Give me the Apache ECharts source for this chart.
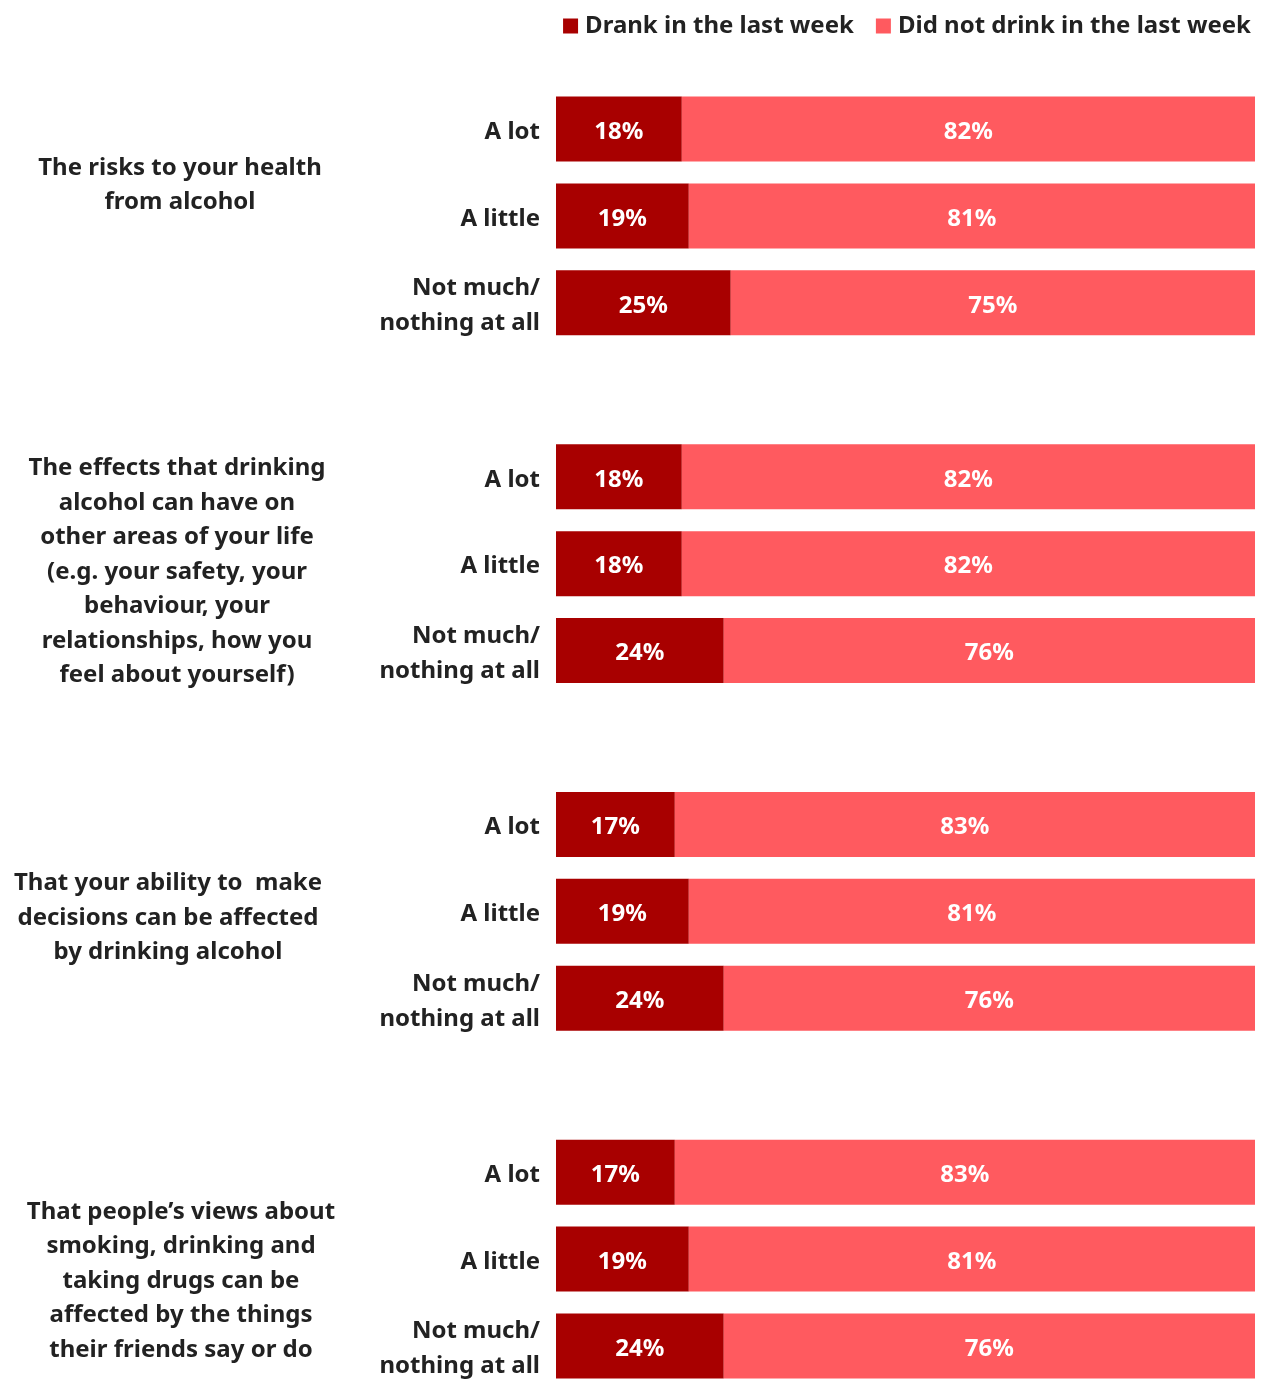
<!DOCTYPE html>
<html>
<head>
<meta charset="utf-8">
<script src="https://cdn.jsdelivr.net/npm/echarts@6/dist/echarts.min.js"></script>
<style>
  html, body { margin: 0; padding: 0; background: #ffffff; }
  #chart { width: 1266px; height: 1381px; }
</style>
</head>
<body>
<div id="chart"></div>
<script>
// Survey responses: how much pupils were taught about each topic,
// split by whether they drank alcohol in the last week (%).
const topics = [
  'The risks to your health\nfrom alcohol',
  'The effects that drinking\nalcohol can have on\nother areas of your life\n(e.g. your safety, your\nbehaviour, your\nrelationships, how you\nfeel about yourself)',
  'That your ability to  make\ndecisions can be affected\nby drinking alcohol',
  'That people\u2019s views about\nsmoking, drinking and\ntaking drugs can be\naffected by the things\ntheir friends say or do'
];
const levels = ['A lot', 'A little', 'Not much/\nnothing at all'];
const drank = [18, 19, 25, 18, 18, 24, 17, 19, 24, 17, 19, 24];
const didNotDrink = [82, 81, 75, 82, 82, 76, 83, 81, 76, 83, 81, 76];
const seriesNames = ['Drank in the last week', 'Did not drink in the last week'];

const FONT = '"Noto Sans", "Open Sans", sans-serif';
const TEXT = '#222222';
const FS = 24;

// Rows: three answer levels per topic, with an empty spacer row between topics
const rows = [];
const drankRows = [];
const notRows = [];
topics.forEach((t, g) => {
  levels.forEach((lv, i) => {
    rows.push(lv + '\u200b'.repeat(g));
    drankRows.push(drank[g * 3 + i]);
    notRows.push(didNotDrink[g * 3 + i]);
  });
  if (g < topics.length - 1) {
    rows.push(' '.repeat(g + 1));
    drankRows.push(null);
    notRows.push(null);
  }
});

// Horizontal and vertical centres of the topic text blocks
const topicX = [180, 177, 168, 181];
const topicY = [185, 572, 918, 1281];

const chart = echarts.init(document.getElementById('chart'));

const barLabel = {
  show: true,
  position: 'inside',
  offset: [0, 3],
  color: '#ffffff',
  fontFamily: FONT,
  fontWeight: 'bold',
  fontSize: FS,
  formatter: p => p.value + '%'
};

const rowText = {
  fontFamily: FONT,
  fontWeight: 'bold',
  fontSize: FS,
  lineHeight: 35,
  color: TEXT,
  align: 'right'
};

chart.setOption({
  backgroundColor: '#ffffff',
  animation: false,
  legend: {
    top: 9,
    right: 10,
    itemWidth: 15,
    itemHeight: 15,
    itemGap: 22,
    icon: 'rect',
    textStyle: { fontFamily: FONT, fontWeight: 'bold', fontSize: FS, color: TEXT, padding: [0, 0, 0, 2] },
    data: seriesNames
  },
  // rows sit on the tick positions: first bar centre at the top edge, last at the bottom edge
  grid: { left: 556, right: 11, top: 129, bottom: 33, containLabel: false },
  xAxis: { type: 'value', min: 0, max: 100, show: false },
  yAxis: {
    type: 'category',
    inverse: true,
    boundaryGap: false,
    data: rows,
    axisLine: { show: false },
    axisTick: { show: false },
    splitLine: { show: false },
    axisLabel: {
      margin: 16,
      align: 'right',
      fontFamily: FONT,
      fontWeight: 'bold',
      fontSize: FS,
      lineHeight: 35,
      color: TEXT,
      formatter: v => {
        const clean = v.replace(/\u200b/g, '').trim();
        if (!clean) return '';
        return clean.split('\n').map(l => '{r|' + l + '}').join('\n');
      },
      rich: { r: Object.assign({ padding: [6, 0, 0, 0] }, rowText) }
    }
  },
  graphic: topics.map((t, i) => ({
    type: 'text',
    x: topicX[i],
    y: topicY[i],
    style: {
      text: t,
      fontFamily: FONT,
      fontWeight: 'bold',
      fontSize: FS,
      lineHeight: 34.5,
      fill: TEXT,
      align: 'center',
      verticalAlign: 'middle'
    }
  })),
  series: [
    {
      name: seriesNames[0],
      type: 'bar',
      stack: 'total',
      barWidth: 65,
      data: drankRows,
      itemStyle: { color: '#A80000' },
      label: barLabel
    },
    {
      name: seriesNames[1],
      type: 'bar',
      stack: 'total',
      barWidth: 65,
      data: notRows,
      itemStyle: { color: '#FF5A5F' },
      label: barLabel
    }
  ]
});
</script>
</body>
</html>
